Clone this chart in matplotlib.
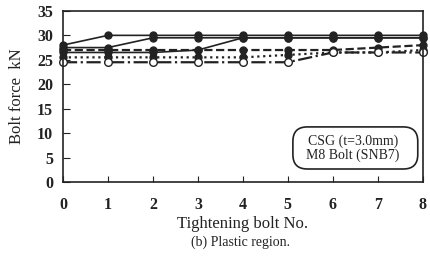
import numpy as np
import matplotlib.pyplot as plt
from matplotlib.patches import FancyBboxPatch

plt.rcParams['font.family'] = ['Liberation Serif', 'DejaVu Serif']

# --- data ---
bolt_no = [0, 1, 2, 3, 4, 5, 6, 7, 8]
force_a = [28.0, 30.0, 30.0, 30.0, 30.0, 30.0, 30.0, 30.0, 30.0]
force_b = [27.5, 27.5, 29.5, 29.5, 29.5, 29.5, 29.5, 29.5, 29.5]
force_c = [26.5, 26.5, 26.5, 27.0, 29.5, 29.5, 29.5, 29.5, 29.5]
force_d = [27.0, 27.0, 27.0, 27.0, 27.0, 27.0, 27.0, 27.5, 28.0]  # dashed
force_e = [24.5, 24.5, 24.5, 24.5, 24.5, 24.5, 26.5, 26.5, 26.5]  # dash-dot, open
force_f = [25.5, 25.5, 25.5, 25.5, 25.5, 26.0, 26.5, 26.5, 27.0]  # dotted
y_ticks = [0, 5, 10, 15, 20, 25, 30, 35]

ink = '#222222'

fig = plt.figure(figsize=(4.31, 2.60), dpi=100)
ax = fig.add_axes([0.146, 0.300, 0.835, 0.658])

ax.plot(bolt_no, force_a, '-', color=ink, lw=1.2, marker='o', ms=5, clip_on=False)
ax.plot(bolt_no, force_b, '-', color=ink, lw=1.2, marker='o', ms=5, clip_on=False)
ax.plot(bolt_no, force_c, '-', color=ink, lw=1.2, marker='o', ms=5, clip_on=False)
ax.plot(bolt_no, force_d, '--', color=ink, lw=1.6, marker='o', ms=5, clip_on=False)
ax.plot(bolt_no, force_f, ':', color=ink, lw=1.6, marker='o', ms=5, clip_on=False)
ax.plot(bolt_no, force_e, '-.', color=ink, lw=1.6, marker='o', ms=5.5,
        mfc='white', mec=ink, clip_on=False)

ax.set_xlim(0, 8)
ax.set_ylim(0, 35)
ax.set_xticks(bolt_no)
ax.set_yticks(y_ticks)
ax.tick_params(axis='x', direction='in', length=4, pad=11, labelsize=11.5, colors=ink)
ax.tick_params(axis='y', direction='in', length=5, pad=7, labelsize=11.5, colors=ink)
for lab in ax.get_xticklabels() + ax.get_yticklabels():
    lab.set_fontweight('bold')
for s in ax.spines.values():
    s.set_color(ink)
    s.set_linewidth(1.2)

ax.set_xlabel('Tightening bolt No.', fontsize=12, color=ink, labelpad=2)
ax.set_ylabel('Bolt force  kN', fontsize=12, color=ink, labelpad=9)

# rounded annotation box
box = FancyBboxPatch((0.639, 0.076), 0.347, 0.246, transform=ax.transAxes,
                     boxstyle='round,pad=0,rounding_size=0.04', fc='white', ec=ink,
                     lw=1.2, mutation_aspect=2.1)
ax.add_patch(box)
ax.text(0.805, 0.195, 'CSG (t=3.0mm)\nM8 Bolt (SNB7)', transform=ax.transAxes,
        fontsize=10, color=ink, linespacing=1.05, va='center', ha='center')

fig.text(0.557, 0.069, '(b) Plastic region.', fontsize=10, color=ink,
         ha='center', va='center')

fig.savefig('out.png', dpi=100)
